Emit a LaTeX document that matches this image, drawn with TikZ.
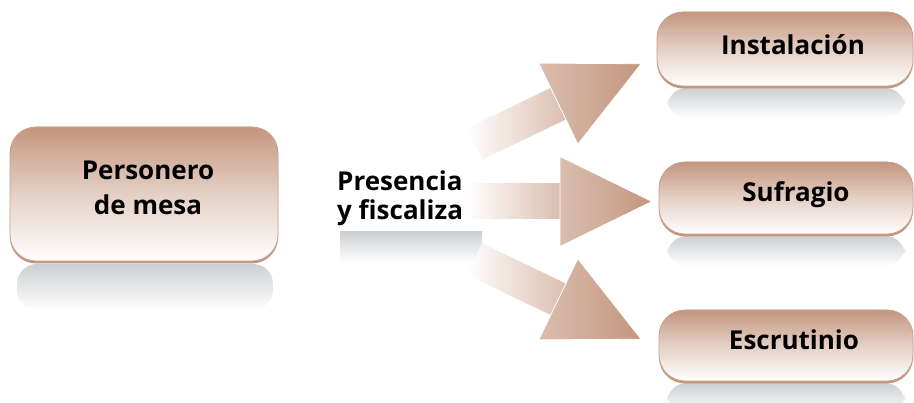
\documentclass[tikz,border=0pt]{standalone}
\usepackage{fontspec}
\setmainfont{Open Sans}
\definecolor{brn}{HTML}{C4967E}
\definecolor{brd}{HTML}{C8A08C}
\definecolor{rfl}{HTML}{CDCFD1}
\begin{document}
\begin{tikzpicture}[x=1pt,y=1pt,
  box/.style={rounded corners=26pt, draw=brd, line width=0.8pt,
    top color=brn, bottom color=white, middle color=brn!45, minimum width=#1},
  bevel/.style={fill=brn, rounded corners=26pt},
  txt/.style={font=\bfseries\fontsize{26}{35}\selectfont, align=center, inner sep=0pt},
  refl/.style={rounded corners=20pt, top color=rfl, bottom color=white},
  shaft/.style={left color=white, right color=brn!62},
  head/.style={left color=brn!62, right color=brn, draw=white, line width=0.8pt},
  flecha/.pic={
    \shade[shaft] (0,-17.5) -- (93,-17.5) -- (93,17.5) -- (0,17.5) -- cycle;
    \shade[head] (93,-45) -- (185,0) -- (93,45) -- cycle;
  }]
\useasboundingbox (0,0) rectangle (914,403);
% reflections
\shade[refl] (17,93) rectangle (273,139);
\shade[refl] (667,285) rectangle (905,315);
\shade[refl] (667,137) rectangle (905,167);
\shade[refl] (667,-10) rectangle (905,20);
\shade[top color=rfl, bottom color=white] (340,141) rectangle (482,171);
% boxes
\fill[bevel] (10,139.5) rectangle (278,276);
\node[box=268pt, minimum height=134pt] (pm) at (144,209) {};
\node[txt] at ([shift={(4,6)}]pm.center) {Personero\\de mesa};
\fill[bevel] (657,314.5) rectangle (913,391);
\node[box=256pt, minimum height=74pt] (ins) at (785,354) {};
\node[txt] at ([shift={(8,4)}]ins.center) {Instalación};
\fill[bevel] (659,166.5) rectangle (913,241);
\node[box=254pt, minimum height=72pt] (suf) at (786,205) {};
\node[txt] at ([shift={(10,3)}]suf.center) {Sufragio};
\fill[bevel] (659,19.5) rectangle (913,93);
\node[box=254pt, minimum height=71pt] (esc) at (786,57.5) {};
\node[txt] at ([shift={(8,6)}]esc.center) {Escrutinio};
% middle text
\node[txt, align=left, anchor=west, font=\bfseries\fontsize{26}{29}\selectfont] (pf) at (337,205) {Presencia\\y fiscaliza};
% arrows
\pic[rotate=25.7] at (474.5,144+115) {flecha};
\pic at (467,201.5) {flecha};
\pic[rotate=-25.7] at (474.5,144) {flecha};
\end{tikzpicture}
\end{document}
